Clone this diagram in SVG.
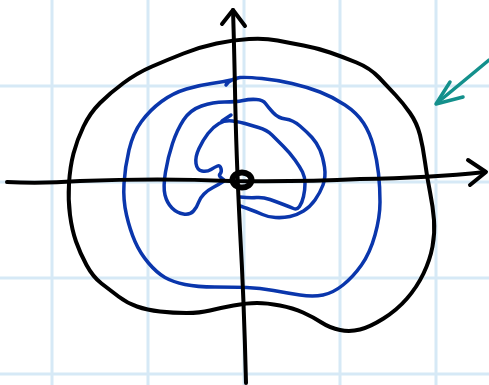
<svg xmlns="http://www.w3.org/2000/svg" width="489" height="385" viewBox="0 0 489 385">
<style>
.grid{stroke:#d6e9f6;stroke-width:3;fill:none}
.ink{fill:none;stroke-linecap:round;stroke-linejoin:round}
.black{stroke:#000;stroke-width:4}
.blue{stroke:#0a36ac;stroke-width:3.5}
.teal{stroke:#14908c;stroke-width:3.5}
</style>
<rect width="489" height="385" fill="#fff"/>
<g id="grid" class="grid">
<line x1="52" y1="0" x2="52" y2="385"/>
<line x1="148" y1="0" x2="148" y2="385"/>
<line x1="244" y1="0" x2="244" y2="385"/>
<line x1="340" y1="0" x2="340" y2="385"/>
<line x1="436" y1="0" x2="436" y2="385"/>
<line x1="0" y1="86" x2="489" y2="86"/>
<line x1="0" y1="182" x2="489" y2="182"/>
<line x1="0" y1="278" x2="489" y2="278"/>
<line x1="0" y1="374" x2="489" y2="374"/>
</g>
<g id="outer-curve" class="ink black">
<path d="M216.5 43.5 Q233 40 249 39 Q265 38 277.5 40.5 Q290 43 303.5 45.5 Q317 48 330 52.5 Q343 57 356.5 62.5 Q370 68 379 77.5 Q388 87 395.5 95 Q403 103 410 113 Q417 123 420 135 Q423 147 425 162 Q427 177 430 192 Q433 207 434 220 Q435 233 432.5 246.5 Q430 260 423.5 273.5 Q417 287 407 298.5 Q397 310 383.5 318.5 Q370 327 360 329.5 Q350 332 340 330 Q330 328 321.5 322.5 Q313 317 303 312.5 Q293 308 280 305.5 Q267 303 257 303 Q247 303 233.5 305.5 Q220 308 210 310.5 Q200 313 186.5 313 Q173 313 160 311.5 Q147 310 137 306.5 Q127 303 118.5 296.5 Q110 290 101.5 283.5 Q93 277 86.5 265 Q80 253 76 241.5 Q72 230 70 215 Q68 200 69 183.5 Q70 167 73.5 153.5 Q77 140 83.5 126.5 Q90 113 100 103 Q110 93 123.5 83 Q137 73 152 66.5 Q167 60 183.5 53.5 Q200 47 216.5 43.5 Z"/>
</g>
<g id="blue-outer" class="ink blue">
<path d="M226 85 Q230 79 240 77.5 Q247 77 262 78.5 Q277 80 292 83.5 Q307 87 320 92 Q333 97 345 105 Q357 113 363.5 123 Q370 133 373.5 146.5 Q377 160 378.5 173.5 Q380 187 380 202 Q380 217 375 235 Q370 253 361.5 265 Q353 277 343 285 Q333 293 323 295 Q313 297 300 295 Q287 293 273.5 290.5 Q260 288 246.5 287.5 Q233 287 215 287 Q197 287 185 284.5 Q173 282 165 277.5 Q157 273 148.5 263 Q140 253 135 241.5 Q130 230 126.5 215 Q123 200 124 183.5 Q125 167 129 150 Q133 133 141.5 121.5 Q150 110 161.5 101.5 Q173 93 186.5 89 Q200 85 211.5 83.5 Q223 82 236 79"/>
</g>
<g id="blue-middle" class="ink blue">
<path d="M240 206 Q243 207 250 209.5 Q257 212 262.5 214.5 Q268 217 275.5 217.5 Q283 218 290 216.5 Q297 215 303.5 211 Q310 207 315 200 Q320 193 323 185 Q326 177 324.5 167 Q323 157 320 150 Q317 143 312 137.5 Q307 132 300 126 Q293 120 285.5 119 Q278 118 273 112.5 Q268 107 265.5 103.5 Q263 100 256.5 99.5 Q250 99 243 100.5 Q236 102 224.5 102 Q213 102 201.5 106 Q190 110 183.5 120 Q177 130 172.5 143.5 Q168 157 165.5 172 Q163 187 165 195 Q167 203 172 208 Q177 213 183.5 214 Q190 215 193.5 211 Q197 207 198.5 202.5 Q200 198 204 194 Q208 190 213 187.5 Q218 185 224 181"/>
</g>
<g id="blue-inner" class="ink blue">
<path d="M240 197 Q250 198 256.5 197.5 Q263 197 270 199.5 Q277 202 283.5 204.5 Q290 207 293.5 208.5 Q297 210 299.5 206.5 Q302 203 303.5 196.5 Q305 190 305 183.5 Q305 177 302.5 172 Q300 167 295 160 Q290 153 283.5 146.5 Q277 140 272 135 Q267 130 258.5 127.5 Q250 125 245 123.5 Q240 122 232.5 121 Q225 120 219 123.5 Q213 127 208 133.5 Q203 140 199 148.5 Q195 157 196 163.5 Q197 170 202 171 Q207 172 211 169.5 Q215 167 217.5 166 Q220 165 221 168.5 Q222 172 220 174 Q218 176 224 180"/>
<path d="M222 121 L231 115"/>
</g>
<g id="axes" class="ink black">
<path d="M246 383 Q244 300 240 230 Q236 150 235 90 Q234 40 233 10"/>
<path d="M222 24 L233 10 L245 26"/>
<path d="M7 182 Q40 184 80 181 Q160 178 230 181 Q300 182 360 179 Q430 178 485 172"/>
<path d="M468 160 L486 172 L470 185"/>
</g>
<g id="origin" class="ink">
<ellipse cx="242" cy="180" rx="9.5" ry="7.5" fill="none" stroke="#000" stroke-width="6"/>
</g>
<g id="teal-arrow" class="ink teal">
<path d="M489 60 Q465 80 437 103"/>
<path d="M450 82 L436 104 L463 97"/>
</g>
</svg>
